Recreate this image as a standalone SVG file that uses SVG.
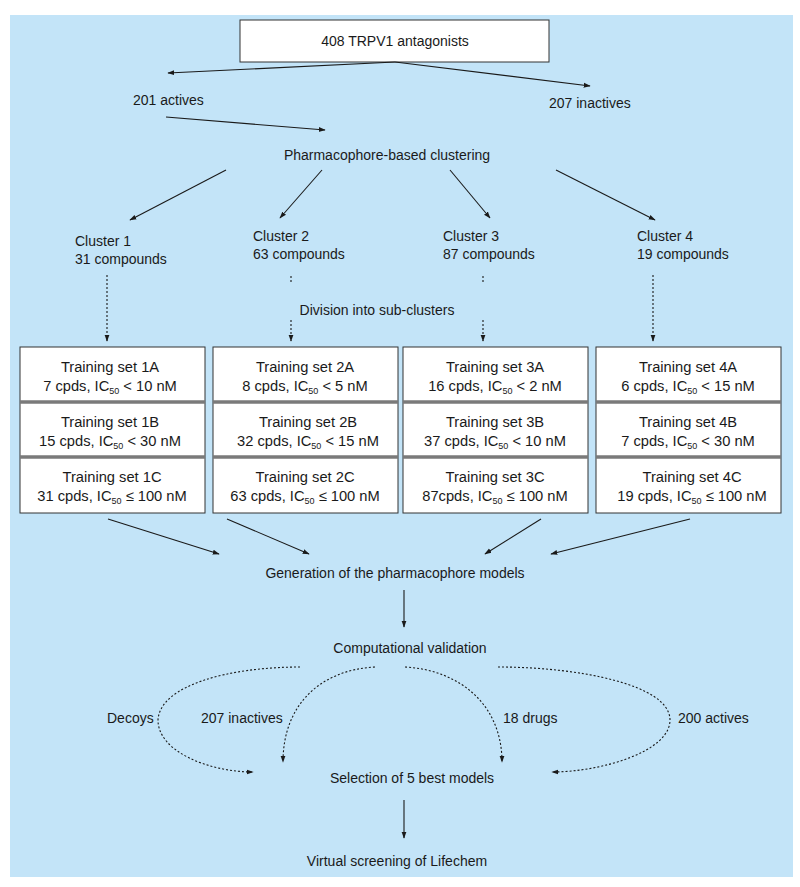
<svg xmlns="http://www.w3.org/2000/svg" width="800" height="887" viewBox="0 0 800 887">
<defs>
<marker id="ah" viewBox="0 0 10 10" refX="9" refY="5" markerWidth="7" markerHeight="7" orient="auto" markerUnits="userSpaceOnUse">
<path d="M0,1.5 L10,5 L0,8.5 Z" fill="#1a1a1a"/>
</marker>
<style>
text{font-family:"Liberation Sans",Arial,sans-serif;font-size:14px;fill:#1a1a1a}
.c{text-anchor:middle}
.b{font-size:14.7px}
.sub{font-size:9px}
.ln{stroke:#1a1a1a;stroke-width:1.1;fill:none}
.dt{stroke:#1a1a1a;stroke-width:1.1;fill:none;stroke-dasharray:2 2}
.box{fill:#ffffff;stroke:#333333;stroke-width:1}
.sep{stroke:#7a7a7a;stroke-width:3.5}
</style>
</defs>
<rect x="10" y="15" width="783" height="862" fill="#c3e4f8"/>

<g id="top">
<rect class="box" x="240" y="20" width="309" height="42"/>
<text class="c" x="395" y="46">408 TRPV1 antagonists</text>
</g>
<g id="actives"><text x="133" y="105">201 actives</text></g>
<g id="inactives"><text x="549" y="108">207 inactives</text></g>
<g id="clustering"><text class="c" x="387" y="160">Pharmacophore-based clustering</text></g>
<g id="cluster1"><text x="75" y="246">Cluster 1</text><text x="75" y="264">31 compounds</text></g>
<g id="cluster2"><text x="253" y="241">Cluster 2</text><text x="253" y="259">63 compounds</text></g>
<g id="cluster3"><text x="443" y="241">Cluster 3</text><text x="443" y="259">87 compounds</text></g>
<g id="cluster4"><text x="637" y="241">Cluster 4</text><text x="637" y="259">19 compounds</text></g>
<g id="division"><text class="c" x="377" y="315">Division into sub-clusters</text></g>

<g id="box1">
<rect class="box" x="20" y="347" width="185" height="166"/>
<line class="sep" x1="20" y1="402" x2="205" y2="402"/>
<line class="sep" x1="20" y1="457" x2="205" y2="457"/>
<text class="c b" x="110" y="372">Training set 1A</text>
<text class="c b" x="110" y="391">7 cpds, IC<tspan class="sub" dy="3">50</tspan><tspan dy="-3"> &lt; 10 nM</tspan></text>
<text class="c b" x="110" y="427">Training set 1B</text>
<text class="c b" x="110" y="446">15 cpds, IC<tspan class="sub" dy="3">50</tspan><tspan dy="-3"> &lt; 30 nM</tspan></text>
<text class="c b" x="112" y="482">Training set 1C</text>
<text class="c b" x="112" y="501">31 cpds, IC<tspan class="sub" dy="3">50</tspan><tspan dy="-3"> ≤ 100 nM</tspan></text>
</g>
<g id="box2">
<rect class="box" x="213" y="347" width="185" height="166"/>
<line class="sep" x1="213" y1="402" x2="398" y2="402"/>
<line class="sep" x1="213" y1="457" x2="398" y2="457"/>
<text class="c b" x="305" y="372">Training set 2A</text>
<text class="c b" x="305" y="391">8 cpds, IC<tspan class="sub" dy="3">50</tspan><tspan dy="-3"> &lt; 5 nM</tspan></text>
<text class="c b" x="308" y="427">Training set 2B</text>
<text class="c b" x="308" y="446">32 cpds, IC<tspan class="sub" dy="3">50</tspan><tspan dy="-3"> &lt; 15 nM</tspan></text>
<text class="c b" x="305" y="482">Training set 2C</text>
<text class="c b" x="305" y="501">63 cpds, IC<tspan class="sub" dy="3">50</tspan><tspan dy="-3"> ≤ 100 nM</tspan></text>
</g>
<g id="box3">
<rect class="box" x="403" y="347" width="185" height="166"/>
<line class="sep" x1="403" y1="402" x2="588" y2="402"/>
<line class="sep" x1="403" y1="457" x2="588" y2="457"/>
<text class="c b" x="495" y="372">Training set 3A</text>
<text class="c b" x="495" y="391">16 cpds, IC<tspan class="sub" dy="3">50</tspan><tspan dy="-3"> &lt; 2 nM</tspan></text>
<text class="c b" x="495" y="427">Training set 3B</text>
<text class="c b" x="495" y="446">37 cpds, IC<tspan class="sub" dy="3">50</tspan><tspan dy="-3"> &lt; 10 nM</tspan></text>
<text class="c b" x="495" y="482">Training set 3C</text>
<text class="c b" x="495" y="501">87cpds, IC<tspan class="sub" dy="3">50</tspan><tspan dy="-3"> ≤ 100 nM</tspan></text>
</g>
<g id="box4">
<rect class="box" x="596" y="347" width="185" height="166"/>
<line class="sep" x1="596" y1="402" x2="781" y2="402"/>
<line class="sep" x1="596" y1="457" x2="781" y2="457"/>
<text class="c b" x="688" y="372">Training set 4A</text>
<text class="c b" x="688" y="391">6 cpds, IC<tspan class="sub" dy="3">50</tspan><tspan dy="-3"> &lt; 15 nM</tspan></text>
<text class="c b" x="688" y="427">Training set 4B</text>
<text class="c b" x="688" y="446">7 cpds, IC<tspan class="sub" dy="3">50</tspan><tspan dy="-3"> &lt; 30 nM</tspan></text>
<text class="c b" x="692" y="482">Training set 4C</text>
<text class="c b" x="692" y="501">19 cpds, IC<tspan class="sub" dy="3">50</tspan><tspan dy="-3"> ≤ 100 nM</tspan></text>
</g>

<g id="generation"><text class="c" x="395" y="578">Generation of the pharmacophore models</text></g>
<g id="validation"><text class="c" x="410" y="653">Computational validation</text></g>
<g id="decoys"><text x="107" y="723">Decoys</text></g>
<g id="inactives207"><text x="201" y="723">207 inactives</text></g>
<g id="drugs"><text x="503" y="723">18 drugs</text></g>
<g id="actives200"><text x="678" y="723">200 actives</text></g>
<g id="selection"><text class="c" x="412" y="783">Selection of 5 best models</text></g>
<g id="screening"><text class="c" x="397" y="866">Virtual screening of Lifechem</text></g>

<g id="connectors">
<line class="ln" x1="395" y1="62" x2="168" y2="73" marker-end="url(#ah)"/>
<line class="ln" x1="395" y1="62" x2="590" y2="86" marker-end="url(#ah)"/>
<line class="ln" x1="166" y1="117" x2="325" y2="130" marker-end="url(#ah)"/>
<line class="ln" x1="226" y1="170" x2="130" y2="220" marker-end="url(#ah)"/>
<line class="ln" x1="322" y1="170" x2="280" y2="218" marker-end="url(#ah)"/>
<line class="ln" x1="450" y1="170" x2="490" y2="218" marker-end="url(#ah)"/>
<line class="ln" x1="556" y1="170" x2="655" y2="220" marker-end="url(#ah)"/>
<line class="dt" x1="107" y1="275" x2="107" y2="341" marker-end="url(#ah)"/>
<line class="dt" x1="291" y1="276" x2="291" y2="282"/>
<line class="dt" x1="291" y1="320" x2="291" y2="341" marker-end="url(#ah)"/>
<line class="dt" x1="483" y1="276" x2="483" y2="282"/>
<line class="dt" x1="483" y1="320" x2="483" y2="341" marker-end="url(#ah)"/>
<line class="dt" x1="653" y1="275" x2="653" y2="341" marker-end="url(#ah)"/>
<line class="ln" x1="108" y1="519" x2="219" y2="554" marker-end="url(#ah)"/>
<line class="ln" x1="227" y1="519" x2="309" y2="554" marker-end="url(#ah)"/>
<line class="ln" x1="541" y1="519" x2="485" y2="554" marker-end="url(#ah)"/>
<line class="ln" x1="690" y1="519" x2="551" y2="554" marker-end="url(#ah)"/>
<line class="ln" x1="404" y1="590" x2="404" y2="627" marker-end="url(#ah)"/>
<path class="dt" d="M300,667 C230,667 160,685 158,720 C158,752 210,772 253,772" marker-end="url(#ah)"/>
<path class="dt" d="M375,667 C320,670 283,705 283,762" marker-end="url(#ah)"/>
<path class="dt" d="M405,667 C460,670 502,705 502,762" marker-end="url(#ah)"/>
<path class="dt" d="M498,667 C580,667 670,685 670,720 C670,752 600,772 552,772" marker-end="url(#ah)"/>
<line class="ln" x1="404" y1="800" x2="404" y2="838" marker-end="url(#ah)"/>
</g>
</svg>
